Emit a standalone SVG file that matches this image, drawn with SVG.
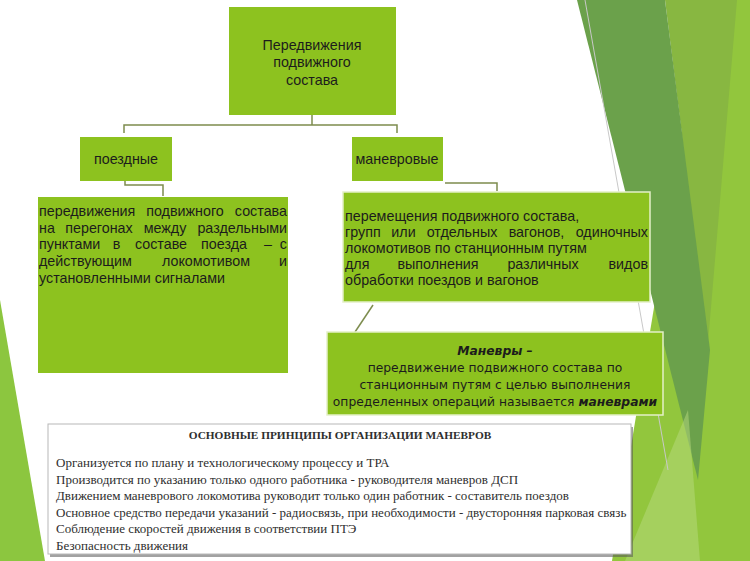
<svg xmlns="http://www.w3.org/2000/svg" width="750" height="561" viewBox="0 0 750 561">
<style>
.box{fill:#8dc21f;}
.t{font-family:"Liberation Sans",Arial,sans-serif;font-size:14.3px;fill:#1c1c1c;}
.m{text-anchor:middle;}
.e{text-anchor:end;}
.v{font-family:"DejaVu Sans",Verdana,sans-serif;font-size:12.3px;fill:#1c1c1c;text-anchor:middle;}
.bi{font-weight:bold;font-style:italic;}
.s{font-family:"Liberation Serif","Times New Roman",serif;font-size:13px;fill:#2e2e2e;}
.ttl{font-family:"Liberation Serif","Times New Roman",serif;font-size:11.3px;font-weight:bold;fill:#2e2e2e;text-anchor:middle;}
.conn{fill:none;stroke:#7d8c4e;stroke-width:1.5;}
</style>
<rect width="750" height="561" fill="#ffffff"/>
<g id="decor">
<polygon points="0,300 45,561 0,561" fill="#8cc63f"/>
<polygon points="705,0 750,0 750,561 612,561" fill="#92c63d"/>
<polygon points="665,0 737,0 708,343" fill="#88b741"/>
<polygon points="577,0 665,0 710,350 698,480" fill="#6ba14b"/>
<polygon points="625,561 688,410 700,561" fill="#b8da80" opacity="0.5"/>
<line x1="585" y1="0" x2="668" y2="470" stroke="#c8c8c8" stroke-width="1"/>
</g>
<g id="connectors">
<polyline class="conn" points="312,115 312,125"/>
<polyline class="conn" points="124,133 124,125 397,125 397,133"/>
<polyline class="conn" points="125,181 125,185 163,185 163,196"/>
<polyline class="conn" points="445,183 497,183 497,191"/>
<line class="conn" x1="373" y1="305" x2="355" y2="332"/>
</g>
<g id="root">
<rect class="box" x="229" y="7" width="167" height="108"/>
<text class="t m" x="312" y="50">Передвижения</text>
<text class="t m" x="312" y="67">подвижного</text>
<text class="t m" x="312" y="85">состава</text>
</g>
<g id="poezdnye">
<rect class="box" x="80" y="137" width="92" height="44"/>
<text class="t m" x="126" y="164">поездные</text>
</g>
<g id="manevrovye">
<rect class="box" x="352" y="137" width="91" height="44"/>
<text class="t m" x="397" y="164">маневровые</text>
</g>
<g id="poezd-desc">
<rect class="box" x="38" y="197" width="250" height="176"/>
<text class="t" x="39" y="216">передвижения</text>
<text class="t m" x="185" y="216">подвижного</text>
<text class="t e" x="287" y="216">состава</text>
<text class="t" x="39" y="232.7">на</text>
<text class="t m" x="99" y="232.7">перегонах</text>
<text class="t m" x="165" y="232.7">между</text>
<text class="t e" x="287" y="232.7">раздельными</text>
<text class="t" x="39" y="249.4">пунктами</text>
<text class="t m" x="116.5" y="249.4">в</text>
<text class="t m" x="161" y="249.4">составе</text>
<text class="t m" x="224" y="249.4">поезда</text>
<text class="t m" x="268" y="249.4">–</text>
<text class="t e" x="287" y="249.4">с</text>
<text class="t" x="39" y="266">действующим</text>
<text class="t m" x="206" y="266">локомотивом</text>
<text class="t e" x="287" y="266">и</text>
<text class="t" x="39" y="282.7">установленными сигналами</text>
</g>
<g id="manevr-desc">
<rect class="box" x="343" y="192" width="307" height="110" stroke="#e4f0c8" stroke-width="1.5"/>
<text class="t" x="345" y="221">перемещения подвижного состава,</text>
<text class="t" x="345" y="237">групп</text>
<text class="t m" x="403.5" y="237">или</text>
<text class="t m" x="462" y="237">отдельных</text>
<text class="t m" x="536.5" y="237">вагонов,</text>
<text class="t e" x="648" y="237">одиночных</text>
<text class="t" x="345" y="253">локомотивов по станционным путям</text>
<text class="t" x="345" y="269">для</text>
<text class="t m" x="438" y="269">выполнения</text>
<text class="t m" x="543" y="269">различных</text>
<text class="t e" x="648" y="269">видов</text>
<text class="t" x="345" y="285">обработки поездов и вагонов</text>
</g>
<g id="manevry-def">
<rect class="box" x="327" y="332" width="336" height="83" stroke="#e4f0c8" stroke-width="1.5"/>
<text class="v bi" x="495" y="355">Маневры –</text>
<text class="v" x="495" y="372">передвижение подвижного состава по</text>
<text class="v" x="495" y="389">станционным путям с целью выполнения</text>
<text class="v" x="495" y="406">определенных операций называется <tspan class="bi">маневрами</tspan></text>
</g>
<g id="principles">
<rect x="50" y="427" width="583" height="130" fill="#555555" opacity="0.55"/>
<rect x="48" y="424" width="583" height="130" fill="#ffffff" stroke="#b8b8b8" stroke-width="1"/>
<text class="ttl" x="340" y="439">ОСНОВНЫЕ ПРИНЦИПЫ ОРГАНИЗАЦИИ МАНЕВРОВ</text>
<text class="s" x="56" y="467">Организуется по плану и технологическому процессу и ТРА</text>
<text class="s" x="56" y="484">Производится по указанию только одного работника - руководителя  маневров  ДСП</text>
<text class="s" x="56" y="500">Движением маневрового локомотива руководит только один работник -  составитель поездов</text>
<text class="s" x="56" y="517">Основное средство передачи указаний  - радиосвязь,  при необходимости - двусторонняя парковая связь</text>
<text class="s" x="56" y="533">Соблюдение скоростей движения в соответствии ПТЭ</text>
<text class="s" x="56" y="550">Безопасность движения</text>
</g>
</svg>
